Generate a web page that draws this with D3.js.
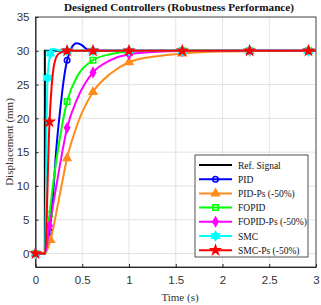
<!DOCTYPE html>
<html>
<head>
<meta charset="utf-8">
<script src="https://cdn.jsdelivr.net/npm/d3@7"></script>
<style>
  body { margin: 0; background: #fff; }
  svg { display: block; }
</style>
</head>
<body>
<svg id="chart" width="321" height="305"></svg>
<script>
// series: [time (s), displacement (mm)]
const refSignal = [[0, 0], [0.1, 0], [0.1, 30], [3, 30]]
const pid = [[0, 0], [0.1, 0], [0.15, 3.2], [0.2, 11], [0.22, 15], [0.27, 22], [0.3, 25.5], [0.338, 28.6], [0.38, 30.3], [0.44, 31.1], [0.5, 30.8], [0.55, 30.2], [0.615, 30], [1.0, 30], [1.57, 30], [2.29, 30], [2.92, 30], [3, 30]]
const pidPs = [[0, 0], [0.1, 0], [0.16, 2], [0.25, 8], [0.338, 14.1], [0.45, 19.2], [0.615, 23.9], [0.8, 26.6], [1.0, 28.3], [1.3, 29.2], [1.57, 29.6], [2.0, 29.9], [2.29, 29.95], [2.92, 30], [3, 30]]
const fopid = [[0, 0], [0.1, 0], [0.15, 5.8], [0.2, 11.5], [0.25, 16.2], [0.338, 22.5], [0.45, 26.3], [0.615, 28.6], [0.8, 29.5], [1.0, 29.85], [1.57, 30], [2.29, 30], [2.92, 30], [3, 30]]
const fopidPs = [[0, 0], [0.1, 0], [0.15, 4.1], [0.25, 12.2], [0.338, 18.6], [0.45, 23], [0.615, 26.8], [0.8, 28.6], [1.0, 29.5], [1.3, 29.85], [1.57, 29.95], [2.29, 30], [2.92, 30], [3, 30]]
const smc = [[0, 0], [0.1, 0], [0.128, 26], [0.16, 29.6], [0.19, 30.3], [0.25, 30.05], [0.338, 30], [0.615, 30], [1.0, 30], [1.57, 30], [2.29, 30], [2.92, 30], [3, 30]]
const smcPs = [[0, 0], [0.1, 0], [0.15, 19.5], [0.2, 28], [0.25, 29.6], [0.338, 30], [0.615, 30], [1.0, 30], [1.57, 30], [2.29, 30], [2.92, 30], [3, 30]]

// times where the markers sit
const markerTimes = [0, 0.128, 0.15, 0.16, 0.338, 0.615, 1.0, 1.57, 2.29, 2.92]

const names = ["Ref. Signal", "PID", "PID-Ps (-50%)", "FOPID", "FOPID-Ps (-50%)", "SMC", "SMC-Ps (-50%)"]
const seriesData = [refSignal, pid, pidPs, fopid, fopidPs, smc, smcPs]
const colors = ["#000000", "#0000ff", "#ff8c1a", "#00ff00", "#ff00ff", "#00ffff", "#ff0000"]
const markers = [null, "circle", "triangle", "square", "diamond", "hexagram", "star"]

const xTicks = [0, 0.5, 1, 1.5, 2, 2.5, 3]
const yTicks = [0, 5, 10, 15, 20, 25, 30, 35]

const margin = {left: 35.5, right: 5, top: 17, bottom: 38}
const width = 321, height = 305

const svg = d3.select("#chart")
const x = d3.scaleLinear().domain([0, 3]).range([margin.left, width - margin.right])
const y = d3.scaleLinear().domain([-2, 35]).range([height - margin.bottom, margin.top])

const axisColor = "#262626"
const gridColor = "#e3e3e3"

// grid
svg.append("g")
  .selectAll("line")
  .data(xTicks)
  .join("line")
  .attr("x1", d => x(d)).attr("x2", d => x(d))
  .attr("y1", y(-2)).attr("y2", y(35))
  .attr("stroke", gridColor)
svg.append("g")
  .selectAll("line")
  .data(yTicks)
  .join("line")
  .attr("x1", x(0)).attr("x2", x(3))
  .attr("y1", d => y(d)).attr("y2", d => y(d))
  .attr("stroke", gridColor)

// axes (ticks inside like matlab)
const xAxis = svg.append("g")
  .attr("transform", `translate(0,${y(-2)})`)
  .call(d3.axisBottom(x).tickValues(xTicks).tickFormat(d3.format("~g")).tickSizeInner(-3).tickSizeOuter(0).tickPadding(9))
const yAxis = svg.append("g")
  .attr("transform", `translate(${x(0)},0)`)
  .call(d3.axisLeft(y).tickValues(yTicks).tickFormat(d3.format("~g")).tickSizeInner(-3).tickSizeOuter(0).tickPadding(6))

;[xAxis, yAxis].forEach(g => {
  g.select(".domain").attr("stroke", axisColor)
  g.selectAll(".tick line").attr("stroke", axisColor)
  g.selectAll(".tick text")
    .attr("fill", "#333")
    .style("font-family", "Liberation Sans, Arial, sans-serif")
    .style("font-size", "11.5px")
})

// box top / right
svg.append("rect")
  .attr("x", x(0)).attr("y", y(35))
  .attr("width", x(3) - x(0)).attr("height", y(-2) - y(35))
  .attr("fill", "none").attr("stroke", axisColor).attr("stroke-width", 0.8)

// marker shapes
const symbolFor = {
  circle: d3.symbolCircle,
  triangle: d3.symbolTriangle,
  square: d3.symbolSquare,
  diamond: d3.symbolDiamond,
  star: d3.symbolStar,
}
function hexagram(size){
  // six-pointed star
  const r = Math.sqrt(size) * 0.75
  const pts = []
  for(let i = 0; i < 12; i++){
    const a = Math.PI / 6 * i - Math.PI / 2
    const rr = i % 2 === 0 ? r : r * 0.55
    pts.push([rr * Math.cos(a), rr * Math.sin(a)])
  }
  return "M" + pts.map(p => p.join(",")).join("L") + "Z"
}
function markerPath(kind, size){
  if(kind === "hexagram") return hexagram(size)
  return d3.symbol(symbolFor[kind], size)()
}
const hollow = {circle: true, square: true}
const markerSize = {circle: 24, triangle: 26, square: 30, diamond: 24, hexagram: 34, star: 24}

const line = d3.line()
  .x(d => x(d[0]))
  .y(d => y(d[1]))
  .curve(d3.curveMonotoneX)
const stepLine = d3.line()
  .x(d => x(d[0]))
  .y(d => y(d[1]))

const plot = svg.append("g")

seriesData.forEach((data, i) => {
  plot.append("path")
    .attr("d", i === 0 ? stepLine(data) : line(data))
    .attr("fill", "none")
    .attr("stroke", colors[i])
    .attr("stroke-width", 2)
  if(!markers[i]) return
  const pts = data.filter(d => markerTimes.includes(d[0]))
  plot.append("g")
    .selectAll("path")
    .data(pts)
    .join("path")
    .attr("transform", d => `translate(${x(d[0])},${y(d[1])})`)
    .attr("d", markerPath(markers[i], markerSize[markers[i]]))
    .attr("fill", hollow[markers[i]] ? "none" : colors[i])
    .attr("stroke", colors[i])
    .attr("stroke-width", 1.5)
})

// title and labels
svg.append("text")
  .attr("x", 179).attr("y", 11)
  .attr("text-anchor", "middle")
  .style("font-family", "Liberation Serif, Times New Roman, serif")
  .style("font-weight", "bold")
  .style("font-size", "11.2px")
  .attr("fill", "#111")
  .text("Designed Controllers (Robustness Performance)")

svg.append("text")
  .attr("x", 180).attr("y", 301)
  .attr("text-anchor", "middle")
  .style("font-family", "Liberation Serif, Times New Roman, serif")
  .style("font-size", "11px")
  .attr("fill", "#333")
  .text("Time (s)")

svg.append("text")
  .attr("transform", `translate(13,${(y(-2) + y(35)) / 2}) rotate(-90)`)
  .attr("text-anchor", "middle")
  .style("font-family", "Liberation Serif, Times New Roman, serif")
  .style("font-size", "11px")
  .attr("fill", "#333")
  .text("Displacement (mm)")

// legend
const legend = svg.append("g").attr("transform", "translate(195,155)")
legend.append("rect")
  .attr("width", 113).attr("height", 102)
  .attr("fill", "#fff").attr("stroke", axisColor).attr("stroke-width", 0.8)

names.forEach((name, i) => {
  const ly = 10 + i * 14.2
  const row = legend.append("g").attr("transform", `translate(0,${ly})`)
  row.append("line")
    .attr("x1", 4).attr("x2", 37)
    .attr("stroke", colors[i]).attr("stroke-width", 2)
  if(markers[i]){
    row.append("path")
      .attr("transform", "translate(20.5,0)")
      .attr("d", markerPath(markers[i], markerSize[markers[i]]))
      .attr("fill", hollow[markers[i]] ? "none" : colors[i])
      .attr("stroke", colors[i])
      .attr("stroke-width", 1.5)
  }
  row.append("text")
    .attr("x", 43).attr("y", 3.5)
    .style("font-family", "Liberation Serif, Times New Roman, serif")
    .style("font-size", "9.5px")
    .attr("fill", "#111")
    .text(name)
})
</script>
</body>
</html>
